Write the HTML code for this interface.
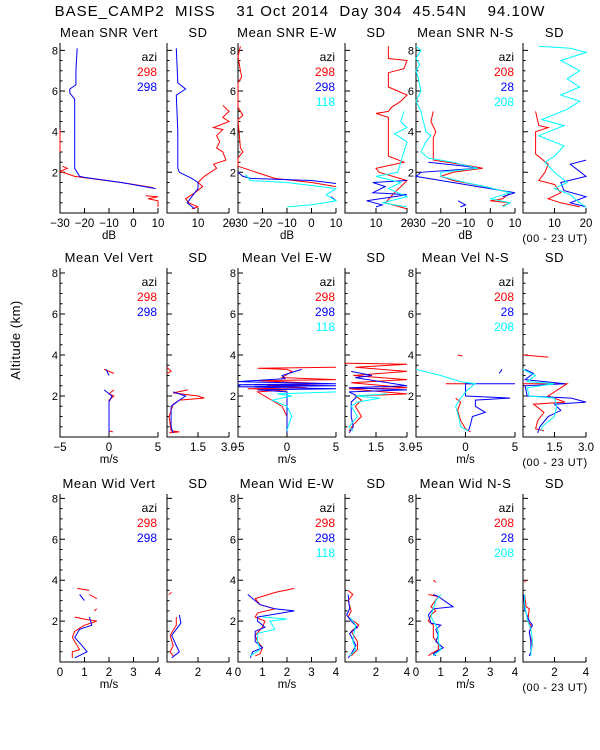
<!DOCTYPE html>
<html><head><meta charset="utf-8"><style>
html,body{margin:0;padding:0;background:#fff;}
svg{display:block;font-family:"Liberation Sans",sans-serif;}
</style></head><body>
<svg id="chart" width="600" height="750" viewBox="0 0 600 750" xmlns="http://www.w3.org/2000/svg">
<text x="300" y="16" font-size="15" letter-spacing="1" text-anchor="middle" style="white-space:pre">BASE_CAMP2  MISS    31 Oct 2014  Day 304  45.54N    94.10W</text>
<text x="20" y="340" font-size="13" letter-spacing="0.5" text-anchor="middle" transform="rotate(-90 20 340)">Altitude  (km)</text>
<g id="plots"></g>
</svg>
<script>
// ---- data (altitude km / value); null = gap ----
const snrVertRedAlt=[4.1,3.5,3.0,null,2.3,2.2,2.05,1.8,1.7,1.5,1.25,null,0.85,0.8,0.7,0.6,0.3];
const snrVertRedVal=[-30,-30,-30,null,-29,-27,-30,-24,-18,-5,8,null,5,10,6,10,10];
const snrVertBlueAlt=[8.1,7.0,6.3,6.1,5.9,5.6,4.0,2.2,1.8,1.75,1.5,1.2];
const snrVertBlueVal=[-23,-23.5,-23.5,-26,-26,-24,-24,-24,-22,-20,-5,9];
const sdSnrVertRedAlt=[5.3,5.0,4.7,4.5,4.2,4.1,3.8,3.5,3.2,3.0,2.6,2.4,2.2,2.0,1.8,1.5,1.3,1.0,0.7,0.5,0.3,0.2];
const sdSnrVertRedVal=[18,20,18,20,15,18,16,17,16,18,19,15,16,14,12,10,11.5,9,6,7,10,8];
const sdSnrVertBlueAlt=[8.1,6.4,6.1,5.8,4.0,2.2,2.0,1.7,1.5,1.2,0.8,0.5,0.2];
const sdSnrVertBlueVal=[3,3.5,6,3,3.5,3.5,4,8,10,10,8,6.5,9];
const snrEwRedAlt=[8.2,7.7,7.0,6.7,6.4,5.2,4.8,4.6,3.2,3.0,2.7,2.3,2.1,1.9,1.7,1.5,1.3];
const snrEwRedVal=[-29,-30,-29,-28.5,-30,-30,-28,-30,-29,-28,-30,-30,-25,-20,-15,0,10];
const snrEwBlueAlt=[2.0,1.8,1.7,1.6,1.45,null,0.8,0.6];
const snrEwBlueVal=[-30,-28,-25,0,10,null,8,10];
const snrEwCyanAlt=[1.9,1.6,1.5,1.2,0.9,0.6,0.4,0.3];
const snrEwCyanVal=[-27,-25,-10,10,6,10,0,-10];
const sdSnrEwRedAlt=[8.2,7.6,7.5,7.1,6.9,6.2,5.8,5.5,5.2,5.0,4.9,4.7,2.8,2.5,2.2,2.0,1.6,1.0,0.5,0.2];
const sdSnrEwRedVal=[14,14,20,19,14,14,20,18,15,14,10,14,14,19,10,11,20,16,13,20];
const sdSnrEwBlueAlt=[1.6,1.5,1.3,1.0,0.9,0.6,0.4,0.3];
const sdSnrEwBlueVal=[20,9,13,9,20,7,12,10];
const sdSnrEwCyanAlt=[5.0,4.5,4.2,3.9,3.5,2.0,1.8,1.5,1.2,0.8,0.5,0.3];
const sdSnrEwCyanVal=[19,18,20,16,20,17,10,18,14,20,12,20];
const snrNsRedAlt=[5.0,4.5,4.0,3.7,2.6,2.4,2.2,2.0,1.8,1.6,1.3,1.0,0.7,0.6,0.5,0.35];
const snrNsRedVal=[-23,-24,-22,-23,-23,-12,-3,-15,-20,-15,-2,8,5,0,8,5];
const snrNsBlueAlt=[2.5,2.3,2.2,2.0,1.8,1.6,1.3,1.0,0.8,null,0.6,0.4,0.3];
const snrNsBlueVal=[-25,-10,-5,-28,-30,-20,-5,10,5,null,-13,-10,-12];
const snrNsCyanAlt=[8.2,8.0,7.6,7.3,7.0,6.6,6.0,5.5,5.0,4.5,4.0,3.8,3.5,3.0,2.7,2.5,2.2,2.0,1.8,1.5,1.3,1.0,0.7,0.5,0.3];
const snrNsCyanVal=[-30,-28,-30,-28.5,-30,-29,-28,-30,-28,-27,-26,-24,-26,-28,-25,-15,-5,-20,-20,-10,-2,8,0,8,5];
const sdSnrNsRedAlt=[5.0,4.3,4.2,4.0,2.9,2.4,2.0,1.6,1.4,1.0,0.7,0.5,0.3];
const sdSnrNsRedVal=[4,5,8,4,4,8,7,5,10,12,8,12,18];
const sdSnrNsBlueAlt=[2.6,2.4,1.8,1.5,1.1,0.8,0.5,0.3];
const sdSnrNsBlueVal=[20,15,20,12,13,20,15,20];
const sdSnrNsCyanAlt=[8.2,8.1,7.9,7.5,7.0,6.6,6.2,5.8,5.5,5.1,4.6,4.3,3.8,3.3,2.8,2.5,2.0,1.5,1.2,0.9,0.5,0.3];
const sdSnrNsCyanVal=[5,15,20,12,18,14,18,12,18,14,6,13,5,13,10,7,10,14,10,15,18,20];
const velVertRedAlt=[3.3,3.1,null,2.3,2.1,2.0,1.8,0.3,0.25];
const velVertRedVal=[-0.5,0.5,null,0.5,0,0.5,0,0,0.4];
const velVertBlueAlt=[3.3,3.0,null,2.3,2.0,1.7,0.2];
const velVertBlueVal=[-0.3,0,null,-0.5,0.3,0,0];
const sdVelVertRedAlt=[3.4,3.2,3.1,null,2.3,2.15,2.0,1.9,1.8,1.6,1.0,0.3,0.25,0.2];
const sdVelVertRedVal=[0,0.2,0,null,1.0,0.3,1.5,1.8,0.6,0.3,0.1,0.2,0.6,0.1];
const sdVelVertBlueAlt=[2.2,2.0,1.8,1.5,0.5,0.2];
const sdVelVertBlueVal=[0.3,0.9,0.6,0.2,0.2,0.3];
const velEwRedAlt=[3.4,3.35,3.3,3.2,2.9,2.8,2.75,2.6,2.5,2.4,2.35,2.3,2.2,1.5,1.0,0.3];
const velEwRedVal=[5,-3,0,0.5,-0.5,5,-3,4,-2,2,-4,0,-3,-0.5,0,0];
const velEwBlueAlt=[3.3,3.0,2.85,2.7,2.6,2.55,2.5,2.45,2.35,2.3,2.2,1.0,0.2];
const velEwBlueVal=[1.5,-0.5,-0.2,-5,5,-5,5,-5,5,-3,0,0,0];
const velEwCyanAlt=[2.2,2.1,2.0,1.8,1.5,1.0,0.8,0.3];
const velEwCyanVal=[5,-1,0.5,-1.5,0,0.5,0.3,0];
const sdVelEwRedAlt=[3.6,3.55,3.4,3.2,3.0,2.8,2.65,2.4,2.35,2.1,2.0,1.8,1.5,1.0,0.6,0.3];
const sdVelEwRedVal=[0,3,0.5,3,0.4,3,0.3,3,0.2,3,0.5,0.8,0.5,0.8,0.4,0.2];
const sdVelEwBlueAlt=[3.2,3.0,2.9,2.5,2.4,2.3,2.2,2.0,1.7,1.0,0.5,0.2];
const sdVelEwBlueVal=[0.3,1.3,0.5,3,0.2,3,0.2,0.6,0.3,0.3,0.4,0.2];
const sdVelEwCyanAlt=[2.1,2.0,1.9,1.7,1.5,1.0,0.5,0.3];
const sdVelEwCyanVal=[2,0.5,1.7,0.6,0.3,0.6,0.2,0.4];
const velNsRedAlt=[4.0,3.95,null,2.6,2.6,null,1.9,1.7,1.3,0.8,0.4,0.25];
const velNsRedVal=[-0.8,-0.3,null,-2,1,null,-1,-0.5,-0.8,-0.5,0,0.5];
const velNsBlueAlt=[3.3,3.1,null,2.6,2.6,2.3,2.0,1.9,1.8,1.5,1.2,1.0,0.6,0.3];
const velNsBlueVal=[3.7,3.4,null,5,0,0,0,4.5,1,1.0,2,0.7,0.5,0.3];
const velNsCyanAlt=[3.3,3.0,2.7,2.6,2.3,1.9,1.5,1.0,0.5,0.3];
const velNsCyanVal=[-5,-2.5,-0.5,1,0.2,-0.5,-1,-0.7,-0.5,0.3];
const sdVelNsRedAlt=[4.0,3.9,null,2.6,2.6,2.0,1.7,1.6,1.2,0.8,0.4,0.3];
const sdVelNsRedVal=[0,1.2,null,0,2.1,1.2,2.0,0.5,1.0,0.7,0.6,1.0];
const sdVelNsBlueAlt=[3.3,3.1,2.8,2.6,2.5,2.0,1.9,1.7,1.6,1.3,1.0,0.5,0.2];
const sdVelNsBlueVal=[0.1,0.5,0.1,2,0.1,0.2,2.3,3,1.5,1.8,1.2,0.8,0.7];
const sdVelNsCyanAlt=[3.3,3.0,2.7,2.6,2.4,2.0,1.9,1.5,1.0,0.5,0.3];
const sdVelNsCyanVal=[0,0.6,0.2,1.5,0.2,0.3,1.5,1.6,1.5,0.9,0.9];
const widVertRedAlt=[3.6,3.5,null,3.3,3.1,null,2.6,2.5,null,2.2,2.1,2.0,1.8,1.5,1.2,0.8,0.6,0.5,0.2];
const widVertRedVal=[0.7,1.2,null,1.2,1.5,null,1.5,1.4,null,0.6,1.0,1.5,1.0,0.6,0.5,0.7,0.8,0.5,0.5];
const widVertBlueAlt=[3.3,3.0,null,2.2,1.8,1.6,1.2,0.8,0.5,0.2];
const widVertBlueVal=[0.8,1.0,null,1.2,1.3,0.8,0.6,0.9,1.1,0.6];
const sdWidVertRedAlt=[3.4,3.3,null,2.2,1.8,1.3,0.8,0.5,0.3];
const sdWidVertRedVal=[0.3,0.1,null,0.6,0.6,0.2,0.4,0.2,0.4];
const sdWidVertBlueAlt=[2.3,1.9,1.3,0.8,0.5,0.2];
const sdWidVertBlueVal=[0.8,0.9,0.3,0.6,0.8,0.3];
const widEwRedAlt=[3.6,3.4,3.1,2.8,2.6,2.4,2.2,2.0,1.7,1.3,1.0,0.7,0.4,0.3];
const widEwRedVal=[2.3,1.5,0.7,0.9,1.5,0.8,0.7,1.1,1.0,0.7,0.8,1.0,0.9,0.7];
const widEwBlueAlt=[3.3,3.1,2.8,2.6,2.5,2.2,2.0,1.7,1.5,1.0,0.7,0.5,0.2];
const widEwBlueVal=[0.4,0.6,0.9,1.5,2.3,0.8,0.8,1.1,0.7,0.7,1.0,0.6,0.5];
const widEwCyanAlt=[2.2,2.1,2.0,1.6,1.4,1.0,0.6,0.3];
const widEwCyanVal=[1.0,2.0,1.3,1.5,0.8,0.8,0.9,0.5];
const sdWidEwRedAlt=[3.5,3.3,3.0,2.5,2.2,1.8,1.5,1.0,0.6,0.3];
const sdWidEwRedVal=[0.2,0.5,0.2,0.4,0.2,0.9,0.4,0.8,0.8,0.4];
const sdWidEwBlueAlt=[3.3,2.6,2.3,2.0,1.7,1.4,0.8,0.4,0.2];
const sdWidEwBlueVal=[0.2,0.3,0.1,0.4,0.8,0.3,0.7,0.4,0.2];
const sdWidEwCyanAlt=[2.2,1.8,1.5,1.0,0.6,0.3];
const sdWidEwCyanVal=[0.3,0.7,0.6,0.5,0.7,0.3];
const widNsRedAlt=[4.0,3.9,null,3.3,3.2,2.7,2.5,2.3,2.0,1.8,1.5,1.2,0.9,0.6,0.4,0.3];
const widNsRedVal=[0.7,0.8,null,0.5,0.9,0.6,0.8,0.6,0.5,0.7,0.7,0.7,0.9,0.9,0.6,0.5];
const widNsBlueAlt=[3.3,3.2,2.7,2.6,2.3,1.9,1.8,1.6,1.3,1.0,0.7,0.4,0.3];
const widNsBlueVal=[0.7,0.9,1.5,0.7,0.5,0.6,1.0,0.8,0.9,0.8,1.1,0.7,0.8];
const widNsCyanAlt=[3.3,3.0,2.6,2.2,1.8,1.5,1.0,0.6,0.3];
const widNsCyanVal=[1.0,0.8,0.7,0.6,0.8,0.9,0.9,1.0,0.7];
const sdWidNsRedAlt=[4.0,3.9,null,3.3,2.7,2.6,2.0,1.8,1.4,0.9,0.5,0.3];
const sdWidNsRedVal=[0.2,0.1,null,0.1,0.2,0.4,0.3,0.5,0.4,0.6,0.5,0.4];
const sdWidNsBlueAlt=[3.3,2.6,2.0,1.8,1.5,1.0,0.5,0.3];
const sdWidNsBlueVal=[0.05,0.1,0.4,0.6,0.4,0.5,0.5,0.4];
const sdWidNsCyanAlt=[3.3,2.8,2.0,1.6,1.0,0.5,0.3];
const sdWidNsCyanVal=[0.1,0.1,0.3,0.5,0.6,0.5,0.5];
// tick labels
const yTicks=[2,4,6,8];
const snrTicks=[-30,-20,-10,0,10];
const sdSnrTicks=[10,20];
const velTicks=[-5,0,5];
const sdVelTicks=[1.5,3.0];
const widTicks=[0,1,2,3,4];
const sdWidTicks=[2,4];

const R='#ff0000',B='#0000ff',C='#00ffff';
const rows=[{z:213,k:20.33,top:43},{z:437,k:20.5,top:268},{z:662,k:20.45,top:494}];
const cols=[[60,158],[167,229],[238,336],[345,407],[416,515],[523,586]];
const panels=[
 [0,0,'Mean SNR Vert',[-30,10],snrTicks,'dB',[[snrVertRedAlt,snrVertRedVal,R],[snrVertBlueAlt,snrVertBlueVal,B]],['298','298']],
 [0,1,'SD',[0,20],sdSnrTicks,'',[[sdSnrVertRedAlt,sdSnrVertRedVal,R],[sdSnrVertBlueAlt,sdSnrVertBlueVal,B]]],
 [0,2,'Mean SNR E-W',[-30,10],snrTicks,'dB',[[snrEwRedAlt,snrEwRedVal,R],[snrEwBlueAlt,snrEwBlueVal,B],[snrEwCyanAlt,snrEwCyanVal,C]],['298','298','118']],
 [0,3,'SD',[0,20],sdSnrTicks,'',[[sdSnrEwRedAlt,sdSnrEwRedVal,R],[sdSnrEwBlueAlt,sdSnrEwBlueVal,B],[sdSnrEwCyanAlt,sdSnrEwCyanVal,C]]],
 [0,4,'Mean SNR N-S',[-30,10],snrTicks,'dB',[[snrNsRedAlt,snrNsRedVal,R],[snrNsBlueAlt,snrNsBlueVal,B],[snrNsCyanAlt,snrNsCyanVal,C]],['208','28','208']],
 [0,5,'SD',[0,20],sdSnrTicks,'',[[sdSnrNsRedAlt,sdSnrNsRedVal,R],[sdSnrNsBlueAlt,sdSnrNsBlueVal,B],[sdSnrNsCyanAlt,sdSnrNsCyanVal,C]]],
 [1,0,'Mean Vel Vert',[-5,5],velTicks,'m/s',[[velVertRedAlt,velVertRedVal,R],[velVertBlueAlt,velVertBlueVal,B]],['298','298']],
 [1,1,'SD',[0,3],sdVelTicks,'',[[sdVelVertRedAlt,sdVelVertRedVal,R],[sdVelVertBlueAlt,sdVelVertBlueVal,B]]],
 [1,2,'Mean Vel E-W',[-5,5],velTicks,'m/s',[[velEwRedAlt,velEwRedVal,R],[velEwBlueAlt,velEwBlueVal,B],[velEwCyanAlt,velEwCyanVal,C]],['298','298','118']],
 [1,3,'SD',[0,3],sdVelTicks,'',[[sdVelEwRedAlt,sdVelEwRedVal,R],[sdVelEwBlueAlt,sdVelEwBlueVal,B],[sdVelEwCyanAlt,sdVelEwCyanVal,C]]],
 [1,4,'Mean Vel N-S',[-5,5],velTicks,'m/s',[[velNsRedAlt,velNsRedVal,R],[velNsBlueAlt,velNsBlueVal,B],[velNsCyanAlt,velNsCyanVal,C]],['208','28','208']],
 [1,5,'SD',[0,3],sdVelTicks,'',[[sdVelNsRedAlt,sdVelNsRedVal,R],[sdVelNsBlueAlt,sdVelNsBlueVal,B],[sdVelNsCyanAlt,sdVelNsCyanVal,C]]],
 [2,0,'Mean Wid Vert',[0,4],widTicks,'m/s',[[widVertRedAlt,widVertRedVal,R],[widVertBlueAlt,widVertBlueVal,B]],['298','298']],
 [2,1,'SD',[0,4],sdWidTicks,'',[[sdWidVertRedAlt,sdWidVertRedVal,R],[sdWidVertBlueAlt,sdWidVertBlueVal,B]]],
 [2,2,'Mean Wid E-W',[0,4],widTicks,'m/s',[[widEwRedAlt,widEwRedVal,R],[widEwBlueAlt,widEwBlueVal,B],[widEwCyanAlt,widEwCyanVal,C]],['298','298','118']],
 [2,3,'SD',[0,4],sdWidTicks,'',[[sdWidEwRedAlt,sdWidEwRedVal,R],[sdWidEwBlueAlt,sdWidEwBlueVal,B],[sdWidEwCyanAlt,sdWidEwCyanVal,C]]],
 [2,4,'Mean Wid N-S',[0,4],widTicks,'m/s',[[widNsRedAlt,widNsRedVal,R],[widNsBlueAlt,widNsBlueVal,B],[widNsCyanAlt,widNsCyanVal,C]],['208','28','208']],
 [2,5,'SD',[0,4],sdWidTicks,'',[[sdWidNsRedAlt,sdWidNsRedVal,R],[sdWidNsBlueAlt,sdWidNsBlueVal,B],[sdWidNsCyanAlt,sdWidNsCyanVal,C]]],
];
const NS='http://www.w3.org/2000/svg';
const root=document.getElementById('plots');
function mk(tag,attrs,parent,text){const e=document.createElementNS(NS,tag);for(const k in attrs)e.setAttribute(k,attrs[k]);if(text!==undefined)e.textContent=text;parent.appendChild(e);return e;}
panels.forEach(p=>{
 const [ri,ci,title,xr,xt,unit,series,legend]=p;
 const row=rows[ri],[x0,x1]=cols[ci];
 const g=mk('g',{},root);
 
 
 const yS=a=>row.z-a*row.k;
 const xS=v=>x0+(v-xr[0])/(xr[1]-xr[0])*(x1-x0);
 const t=mk('text',{x:(x0+x1)/2,y:row.top-6,'font-size':13,'letter-spacing':0.6,'text-anchor':'middle'},g,title);
 
 
 let d='M'+x0+' '+row.top+'V'+row.z+'H'+x1;
 for(let h=0.5;h<=8.01;h+=0.5){const y=yS(h);const L=(Math.abs(h%2)<0.01)?5:2.5;d+='M'+x0+' '+y.toFixed(1)+'h'+L;}
 xt.forEach(v=>{d+='M'+xS(v).toFixed(1)+' '+row.z+'v-5';});
 const ax=mk('path',{d:d,stroke:'#000','stroke-width':1,fill:'none'},g);
 
 
 if(ci%2===0){yTicks.forEach(v=>{const tl=mk('text',{x:x0-2,y:yS(v)+4,'font-size':11,'text-anchor':'end'},g,String(v));
  
  });}
 xt.forEach(v=>{const s=(ri===1&&ci%2===1)?v.toFixed(1):String(v).replace('-','\u2212');
  const tl=mk('text',{x:xS(v),y:row.z+14,'font-size':11.5,'text-anchor':'middle'},g,s);
  
  });
 if(unit){const u=mk('text',{x:(x0+x1)/2,y:row.z+26,'font-size':11.5,'text-anchor':'middle'},g,unit);
  
  }
 if(ci===5){const u=mk('text',{x:555,y:row.z+29,'font-size':11,'letter-spacing':0.5,'text-anchor':'middle'},g,'(00 - 23 UT)');
  
  }
 if(legend){const cl=[R,B,C];
  const a=mk('text',{x:x1-1,y:row.top+18,'font-size':12,'text-anchor':'end'},g,'azi');
  
  
  legend.forEach((s,i)=>{const e=mk('text',{x:x1-1,y:row.top+33+15*i,'font-size':12,'text-anchor':'end',fill:cl[i]},g,s);
   
   });}
 series.forEach(([al,vl,col])=>{
  let pd='',pen=false;
  for(let i=0;i<al.length;i++){if(al[i]===null||vl[i]===null){pen=false;continue;}
   const X=Math.max(x0,Math.min(x1,xS(vl[i]))).toFixed(1),Y=yS(al[i]).toFixed(1);
   pd+=(pen?'L':'M')+X+' '+Y;pen=true;}
  const ln=mk('path',{d:pd,stroke:col,'stroke-width':1,fill:'none'},g);
  
  
 });
});
</script>
</body></html>
